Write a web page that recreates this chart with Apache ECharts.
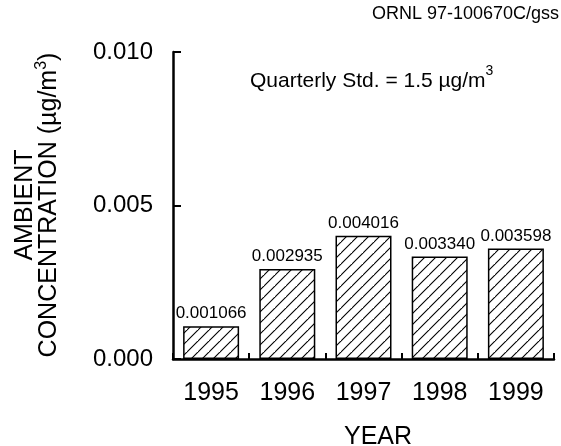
<!DOCTYPE html>
<html>
<head>
<meta charset="utf-8">
<script src="https://cdn.jsdelivr.net/npm/echarts@6/dist/echarts.min.js"></script>
<style>
html,body{margin:0;padding:0;background:#fff;}
#main{width:561px;height:446px;}
</style>
</head>
<body>
<div id="main"></div>
<script>
var years = ['1995', '1996', '1997', '1998', '1999'];
var concentrations = [0.001066, 0.002935, 0.004016, 0.003340, 0.003598];
var valueLabels = ['0.001066', '0.002935', '0.004016', '0.003340', '0.003598'];
var yTickValues = [0, 0.005, 0.010];

var FONT = '"Liberation Sans", Arial, Helvetica, sans-serif';

function makeHatch() {
  var s = 11;
  var c = document.createElement('canvas');
  c.width = s; c.height = s;
  var g = c.getContext('2d');
  g.fillStyle = '#fff';
  g.fillRect(0, 0, s, s);
  g.strokeStyle = '#000';
  g.lineWidth = 1.1;
  g.beginPath();
  g.moveTo(-1, s + 1); g.lineTo(s + 1, -1);
  g.moveTo(-s - 1, s + 1); g.lineTo(1, -1);
  g.moveTo(s - 1, 2 * s + 1); g.lineTo(2 * s + 1, s - 1);
  g.stroke();
  return c;
}

var chart = echarts.init(document.getElementById('main'), null, {renderer: 'canvas'});
var hatch = makeHatch();

var option = {
  backgroundColor: '#fff',
  animation: false,
  grid: {left: 173, right: 7, top: 52, bottom: 87, containLabel: false},
  xAxis: {
    type: 'category',
    data: years,
    boundaryGap: true,
    axisLine: {show: true, lineStyle: {color: '#000', width: 2.5}},
    axisTick: {show: true, inside: true, length: 6, lineStyle: {color: '#000', width: 2}},
    axisLabel: {color: '#000', fontFamily: FONT, fontSize: 25, margin: 22},
    splitLine: {show: false}
  },
  yAxis: {
    type: 'value',
    min: 0, max: 0.01, interval: 0.005,
    axisLine: {show: true, lineStyle: {color: '#000', width: 2.5}},
    axisTick: {show: true, inside: true, length: 8, lineStyle: {color: '#000', width: 2}},
    axisLabel: {
      color: '#000', fontFamily: FONT, fontSize: 24, margin: 20,
      padding: [0, 0, 8, 0],
      formatter: function (v) { return v.toFixed(3); }
    },
    splitLine: {show: false}
  },
  series: [{
    type: 'bar',
    data: concentrations,
    barWidth: 56,
    itemStyle: {
      color: {image: hatch, repeat: 'repeat'},
      borderColor: '#000',
      borderWidth: 1.5
    },
    label: {
      show: true,
      position: 'top',
      distance: 4,
      color: '#000',
      fontFamily: FONT,
      fontSize: 17,
      formatter: function (p) { return valueLabels[p.dataIndex]; }
    }
  }],
  graphic: [
    {
      type: 'text', right: 2, top: 5,
      style: {text: 'ORNL 97-100670C/gss', font: '18px ' + FONT, fill: '#000'}
    },
    {
      type: 'text', left: 250, top: 64,
      style: {
        text: '{a|Quarterly Std. = 1.5 \u00b5g/m}{s|3}',
        rich: {
          a: {fontFamily: FONT, fontSize: 21, fill: '#000', color: '#000', verticalAlign: 'bottom', lineHeight: 24},
          s: {fontFamily: FONT, fontSize: 14, fill: '#000', color: '#000', verticalAlign: 'top', lineHeight: 28, padding: [0, 0, 14, 0]}
        }
      }
    },
    {
      type: 'text', x: 378, y: 437,
      style: {text: 'YEAR', font: '25px ' + FONT, fill: '#000', textAlign: 'center', textVerticalAlign: 'middle'}
    },
    {
      type: 'text', x: 25, y: 205, rotation: Math.PI / 2,
      style: {text: 'AMBIENT', font: '25px ' + FONT, fill: '#000', textAlign: 'center', textVerticalAlign: 'middle'}
    },
    {
      type: 'text', x: 49, y: 205, rotation: Math.PI / 2,
      style: {
        text: '{a|CONCENTRATION (\u00b5g/m}{s|3}{a|)}',
        textAlign: 'center', textVerticalAlign: 'middle',
        rich: {
          a: {fontFamily: FONT, fontSize: 25, fill: '#000', color: '#000', lineHeight: 28},
          s: {fontFamily: FONT, fontSize: 16, fill: '#000', color: '#000', lineHeight: 28, padding: [0, 0, 14, 0]}
        }
      }
    }
  ]
};
chart.setOption(option);
</script>
</body>
</html>
